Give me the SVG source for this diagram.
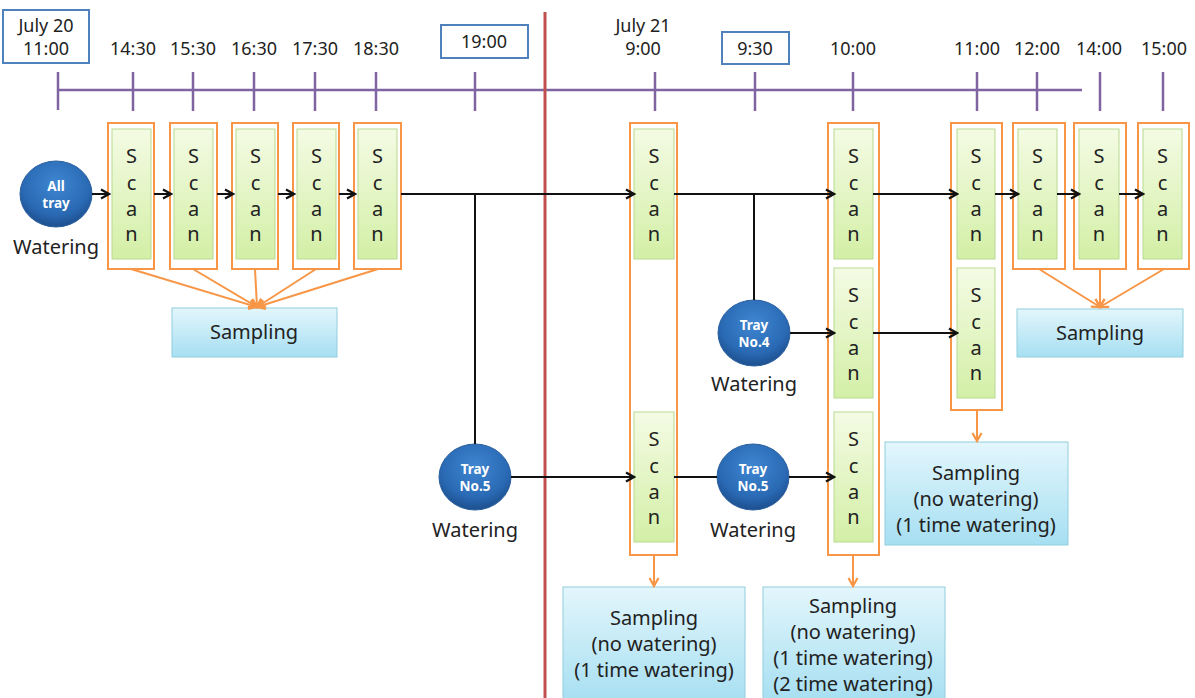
<svg xmlns="http://www.w3.org/2000/svg" width="1195" height="698" viewBox="0 0 1195 698">
<style>
text{font-family:"Noto Sans","Open Sans","Liberation Sans",sans-serif;fill:#222;}
.t{font-size:18px;text-anchor:middle;}
.lt{font-size:20px;text-anchor:middle;}
.sc{font-size:20px;text-anchor:middle;}
.ct{font-size:13.5px;font-weight:bold;fill:#fff;text-anchor:middle;}
.tb{fill:#fff;stroke:#4f81bd;stroke-width:2;}
.tl{stroke:#8064a2;stroke-width:2.5;fill:none;}
.ob{fill:#fff;stroke:#f79646;stroke-width:2;}
.gb{fill:url(#gg);stroke:#b8d98f;stroke-width:1;}
.sb{fill:url(#bg);stroke:#92cddc;stroke-width:1;}
.cn{stroke:#111;stroke-width:2;fill:none;}
.oc{stroke:#f79646;stroke-width:2;fill:none;}
.cir{fill:url(#cg);stroke:#2a5f9e;stroke-width:1;}
</style>
<defs>
<linearGradient id="gg" x1="0" y1="0" x2="0" y2="1"><stop offset="0" stop-color="#f4fbe4"/><stop offset="1" stop-color="#d3efa6"/></linearGradient>
<linearGradient id="bg" x1="0" y1="0" x2="0" y2="1"><stop offset="0" stop-color="#e3f6fc"/><stop offset="1" stop-color="#a6dff2"/></linearGradient>
<radialGradient id="cg" cx="0.5" cy="0.35" r="0.65"><stop offset="0" stop-color="#3f86d0"/><stop offset="0.7" stop-color="#2a6ab5"/><stop offset="1" stop-color="#1d4f8e"/></radialGradient>
<marker id="ah" markerWidth="12" markerHeight="12" refX="10" refY="6" orient="auto" markerUnits="userSpaceOnUse"><path d="M2,1.5 L10,6 L2,10.5" fill="none" stroke="#111" stroke-width="2.2"/></marker>
<marker id="oa" markerWidth="12" markerHeight="12" refX="10" refY="6" orient="auto" markerUnits="userSpaceOnUse"><path d="M2,1.5 L10,6 L2,10.5" fill="none" stroke="#f79646" stroke-width="2.2"/></marker>
</defs>
<rect width="1195" height="698" fill="#fff"/>

<g id="timeline">
<path class="tl" d="M58,90 H1082 M58,72 V110 M133,72 V111 M193,72 V111 M254,72 V111 M315,72 V111 M376,72 V111 M475,72 V111 M655,72 V111 M755,72 V111 M853,72 V111 M977,72 V111 M1037,72 V111 M1100,72 V111 M1163,72 V111"/>
</g>

<g id="labels">
<rect class="tb" x="3" y="10" width="86" height="53"/>
<text class="t" x="46" y="32">July 20</text>
<text class="t" x="46" y="55">11:00</text>
<text class="t" x="133" y="55">14:30</text>
<text class="t" x="193" y="55">15:30</text>
<text class="t" x="254" y="55">16:30</text>
<text class="t" x="315" y="55">17:30</text>
<text class="t" x="376" y="55">18:30</text>
<rect class="tb" x="441" y="25" width="87" height="33"/>
<text class="t" x="484" y="48">19:00</text>
<text class="t" x="643" y="32">July 21</text>
<text class="t" x="643" y="55">9:00</text>
<rect class="tb" x="722" y="32" width="67" height="32"/>
<text class="t" x="755" y="55">9:30</text>
<text class="t" x="853" y="55">10:00</text>
<text class="t" x="977" y="55">11:00</text>
<text class="t" x="1037" y="55">12:00</text>
<text class="t" x="1099" y="55">14:00</text>
<text class="t" x="1164" y="55">15:00</text>
</g>

<g id="divider"><line x1="545" y1="12" x2="545" y2="698" stroke="#c0504d" stroke-width="3"/></g>

<g id="scan1"><rect class="ob" x="108" y="123" width="46" height="146"/><rect class="gb" x="112" y="129" width="39" height="130"/><text class="sc"><tspan x="131.5" y="163">S</tspan><tspan x="131.5" y="190">c</tspan><tspan x="131.5" y="216">a</tspan><tspan x="131.5" y="241">n</tspan></text></g>
<g id="scan2"><rect class="ob" x="170" y="123" width="47" height="146"/><rect class="gb" x="174" y="129" width="39" height="130"/><text class="sc"><tspan x="193.5" y="163">S</tspan><tspan x="193.5" y="190">c</tspan><tspan x="193.5" y="216">a</tspan><tspan x="193.5" y="241">n</tspan></text></g>
<g id="scan3"><rect class="ob" x="232" y="123" width="46" height="146"/><rect class="gb" x="236" y="129" width="39" height="130"/><text class="sc"><tspan x="255.5" y="163">S</tspan><tspan x="255.5" y="190">c</tspan><tspan x="255.5" y="216">a</tspan><tspan x="255.5" y="241">n</tspan></text></g>
<g id="scan4"><rect class="ob" x="293" y="123" width="46" height="146"/><rect class="gb" x="297" y="129" width="39" height="130"/><text class="sc"><tspan x="316.5" y="163">S</tspan><tspan x="316.5" y="190">c</tspan><tspan x="316.5" y="216">a</tspan><tspan x="316.5" y="241">n</tspan></text></g>
<g id="scan5"><rect class="ob" x="354" y="123" width="47" height="146"/><rect class="gb" x="358" y="129" width="39" height="130"/><text class="sc"><tspan x="377.5" y="163">S</tspan><tspan x="377.5" y="190">c</tspan><tspan x="377.5" y="216">a</tspan><tspan x="377.5" y="241">n</tspan></text></g>

<g id="col900"><rect class="ob" x="630" y="123" width="47" height="432"/>
<rect class="gb" x="634" y="129" width="40" height="130"/><text class="sc"><tspan x="654" y="163">S</tspan><tspan x="654" y="190">c</tspan><tspan x="654" y="216">a</tspan><tspan x="654" y="241">n</tspan></text>
<rect class="gb" x="634" y="412" width="40" height="130"/><text class="sc"><tspan x="654" y="446">S</tspan><tspan x="654" y="473">c</tspan><tspan x="654" y="499">a</tspan><tspan x="654" y="524">n</tspan></text></g>

<g id="col1000"><rect class="ob" x="828" y="123" width="51" height="432"/>
<rect class="gb" x="834" y="129" width="39" height="130"/><text class="sc"><tspan x="853.5" y="163">S</tspan><tspan x="853.5" y="190">c</tspan><tspan x="853.5" y="216">a</tspan><tspan x="853.5" y="241">n</tspan></text>
<rect class="gb" x="834" y="268" width="39" height="130"/><text class="sc"><tspan x="853.5" y="302">S</tspan><tspan x="853.5" y="329">c</tspan><tspan x="853.5" y="355">a</tspan><tspan x="853.5" y="380">n</tspan></text>
<rect class="gb" x="834" y="412" width="39" height="130"/><text class="sc"><tspan x="853.5" y="446">S</tspan><tspan x="853.5" y="473">c</tspan><tspan x="853.5" y="499">a</tspan><tspan x="853.5" y="524">n</tspan></text></g>

<g id="col1100"><rect class="ob" x="951" y="123" width="51" height="287"/>
<rect class="gb" x="957" y="129" width="38" height="130"/><text class="sc"><tspan x="976" y="163">S</tspan><tspan x="976" y="190">c</tspan><tspan x="976" y="216">a</tspan><tspan x="976" y="241">n</tspan></text>
<rect class="gb" x="957" y="268" width="38" height="130"/><text class="sc"><tspan x="976" y="302">S</tspan><tspan x="976" y="329">c</tspan><tspan x="976" y="355">a</tspan><tspan x="976" y="380">n</tspan></text></g>

<g id="scan1200"><rect class="ob" x="1013" y="123" width="52" height="146"/><rect class="gb" x="1018" y="129" width="39" height="130"/><text class="sc"><tspan x="1037.5" y="163">S</tspan><tspan x="1037.5" y="190">c</tspan><tspan x="1037.5" y="216">a</tspan><tspan x="1037.5" y="241">n</tspan></text></g>
<g id="scan1400"><rect class="ob" x="1074" y="123" width="52" height="146"/><rect class="gb" x="1079" y="129" width="40" height="130"/><text class="sc"><tspan x="1099" y="163">S</tspan><tspan x="1099" y="190">c</tspan><tspan x="1099" y="216">a</tspan><tspan x="1099" y="241">n</tspan></text></g>
<g id="scan1500"><rect class="ob" x="1138" y="123" width="51" height="146"/><rect class="gb" x="1143" y="129" width="39" height="130"/><text class="sc"><tspan x="1162.5" y="163">S</tspan><tspan x="1162.5" y="190">c</tspan><tspan x="1162.5" y="216">a</tspan><tspan x="1162.5" y="241">n</tspan></text></g>

<g id="alltray"><ellipse class="cir" cx="56" cy="194" rx="36" ry="33"/><text class="ct" x="56" y="191">All</text><text class="ct" x="56" y="208">tray</text><text class="lt" x="56" y="254">Watering</text></g>
<g id="tray5a"><ellipse class="cir" cx="475" cy="477" rx="36" ry="33"/><text class="ct" x="475" y="474">Tray</text><text class="ct" x="475" y="491">No.5</text><text class="lt" x="475" y="537">Watering</text></g>
<g id="tray5b"><ellipse class="cir" cx="753" cy="477" rx="36" ry="33"/><text class="ct" x="753" y="474">Tray</text><text class="ct" x="753" y="491">No.5</text><text class="lt" x="753" y="537">Watering</text></g>
<g id="tray4"><ellipse class="cir" cx="754" cy="333" rx="36" ry="33"/><text class="ct" x="754" y="330">Tray</text><text class="ct" x="754" y="347">No.4</text><text class="lt" x="754" y="391">Watering</text></g>

<g id="sampling1"><rect class="sb" x="172" y="308" width="165" height="49"/><text class="lt" x="254" y="339">Sampling</text></g>
<g id="sampling2"><rect class="sb" x="1017" y="309" width="166" height="48"/><text class="lt" x="1100" y="340">Sampling</text></g>
<g id="sampling3"><rect class="sb" x="563" y="587" width="182" height="115"/><text class="lt" x="654" y="625">Sampling</text><text class="lt" x="654" y="651">(no watering)</text><text class="lt" x="654" y="677">(1 time watering)</text></g>
<g id="sampling4"><rect class="sb" x="763" y="587" width="182" height="115"/><text class="lt" x="853" y="613">Sampling</text><text class="lt" x="853" y="639">(no watering)</text><text class="lt" x="853" y="665">(1 time watering)</text><text class="lt" x="853" y="691">(2 time watering)</text></g>
<g id="sampling5"><rect class="sb" x="885" y="442" width="183" height="103"/><text class="lt" x="976" y="480">Sampling</text><text class="lt" x="976" y="506">(no watering)</text><text class="lt" x="976" y="532">(1 time watering)</text></g>

<g id="connectors">
<path class="cn" marker-end="url(#ah)" d="M92,194 H109"/>
<path class="cn" marker-end="url(#ah)" d="M154,194 H171"/>
<path class="cn" marker-end="url(#ah)" d="M217,194 H233"/>
<path class="cn" marker-end="url(#ah)" d="M278,194 H294"/>
<path class="cn" marker-end="url(#ah)" d="M339,194 H355"/>
<path class="cn" marker-end="url(#ah)" d="M401,194 H634"/>
<path class="cn" d="M475,194 V444"/>
<path class="cn" marker-end="url(#ah)" d="M511,477 H634"/>
<path class="cn" d="M674,477 H717"/>
<path class="cn" marker-end="url(#ah)" d="M789,477 H834"/>
<path class="cn" marker-end="url(#ah)" d="M674,194 H834"/>
<path class="cn" d="M754,194 V300"/>
<path class="cn" marker-end="url(#ah)" d="M790,333 H834"/>
<path class="cn" marker-end="url(#ah)" d="M873,333 H957"/>
<path class="cn" marker-end="url(#ah)" d="M873,194 H957"/>
<path class="cn" marker-end="url(#ah)" d="M995,194 H1018"/>
<path class="cn" marker-end="url(#ah)" d="M1057,194 H1079"/>
<path class="cn" marker-end="url(#ah)" d="M1119,194 H1143"/>
<path class="oc" marker-end="url(#oa)" d="M131,269 L257,307"/>
<path class="oc" marker-end="url(#oa)" d="M193,269 L257,307"/>
<path class="oc" marker-end="url(#oa)" d="M255,269 L257,307"/>
<path class="oc" marker-end="url(#oa)" d="M316,269 L257,307"/>
<path class="oc" marker-end="url(#oa)" d="M378,269 L257,307"/>
<path class="oc" marker-end="url(#oa)" d="M1039,269 L1100,307"/>
<path class="oc" marker-end="url(#oa)" d="M1100,269 L1100,307"/>
<path class="oc" marker-end="url(#oa)" d="M1164,269 L1100,307"/>
<path class="oc" marker-end="url(#oa)" d="M654,555 V586"/>
<path class="oc" marker-end="url(#oa)" d="M853,555 V586"/>
<path class="oc" marker-end="url(#oa)" d="M977,410 V441"/>
</g>
</svg>
